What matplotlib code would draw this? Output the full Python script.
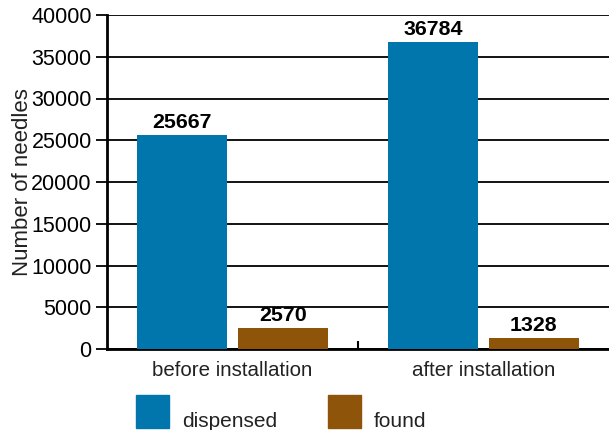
import matplotlib.pyplot as plt
from matplotlib.patches import Rectangle
import numpy as np

plt.rcParams['font.family'] = ['Liberation Sans', 'DejaVu Sans']

categories = ['before installation', 'after installation']
dispensed = [25667, 36784]
found = [2570, 1328]
series_names = ['dispensed', 'found']
colors = ['#0076AD', '#8E5409']

W, H = 609, 430
fig = plt.figure(figsize=(W / 100, H / 100), dpi=100)
ax = fig.add_axes([107 / W, 1 - 349 / H, 502 / W, 334 / H])

x = np.arange(len(categories))
w = 0.36
b1 = ax.bar(x - 0.2, dispensed, w, color=colors[0], label=series_names[0], zorder=3)
b2 = ax.bar(x + 0.2, found, w, color=colors[1], label=series_names[1], zorder=3)

for bars in (b1, b2):
    for r in bars:
        ax.text(r.get_x() + r.get_width() / 2, r.get_height() + 350, str(int(r.get_height())),
                ha='center', va='bottom', fontsize=15.4, fontweight='bold', zorder=4)

ax.set_xlim(-0.5, 1.5)
ax.set_ylim(0, 40000)
ax.set_yticks(np.arange(0, 40001, 5000))
ax.yaxis.grid(True, color='black', linewidth=1.3)
ax.set_axisbelow(True)
ax.set_xticks(x)
ax.set_xticklabels(categories)
ax.set_xticks([0.5], minor=True)
ax.tick_params(axis='x', which='major', length=0, pad=9, labelsize=14.8, colors='#222222')
ax.tick_params(axis='x', which='minor', direction='in', length=6, width=1.5)
ax.tick_params(axis='y', length=8, width=1.3, labelsize=15.5, pad=3)
ax.set_ylabel('Number of needles', fontsize=16, labelpad=-1, color='#222222')

for s in ('top', 'right'):
    ax.spines[s].set_visible(False)
ax.spines['left'].set_linewidth(2)
ax.spines['bottom'].set_linewidth(2)

# legend: squares with text sitting on their bottom edge
legend_x = [136, 328]
for name, col, lx in zip(series_names, colors, legend_x):
    fig.add_artist(Rectangle((lx / W, 1 - 428 / H), 33 / W, 33 / H,
                             transform=fig.transFigure, color=col))
    fig.text((lx + 46) / W, 1 - 427 / H, name, fontsize=15, color='#222222',
             ha='left', va='baseline')

fig.savefig('out.png', dpi=100)
